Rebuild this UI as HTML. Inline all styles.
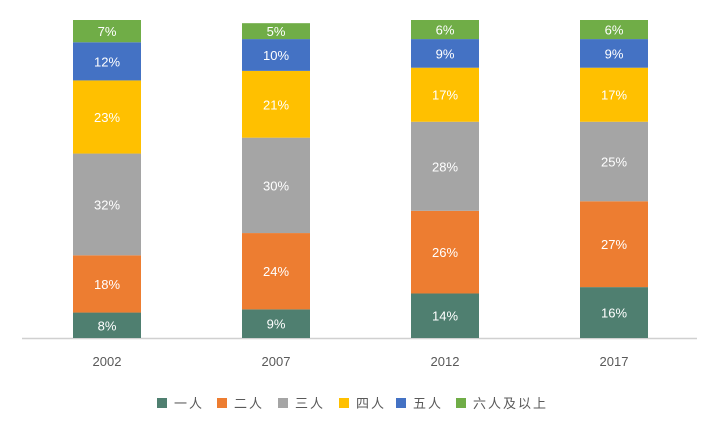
<!DOCTYPE html>
<html><head><meta charset="utf-8"><style>
body{margin:0;background:#fff;}
svg{display:block;font-family:"Liberation Sans","Noto Sans CJK SC",sans-serif;}
</style></head><body>
<svg id="chart" width="720" height="432" viewBox="0 0 720 432">
<line x1="22" y1="338.5" x2="697" y2="338.5" stroke="#d0d0d0" stroke-width="1.5"/>
<g id="bars"></g>
<g id="xlabels"></g>
<g id="legend"></g>
</svg>
<script>
const years = ["2002","2007","2012","2017"];
const seriesNames = ["一人","二人","三人","四人","五人","六人及以上"];
const s1 = [8,9,14,16];
const s2 = [18,24,26,27];
const s3 = [32,30,28,25];
const s4 = [23,21,17,17];
const s5 = [12,10,9,9];
const s6 = [7,5,6,6];
const series = [s1,s2,s3,s4,s5,s6];
const colors = ["#4f7f70","#ed7d31","#a5a5a5","#ffc000","#4472c4","#70ad47"];
const NS="http://www.w3.org/2000/svg";
const baseY=338, plotH=318, bandW=169, barW=68;
function yScale(v){return v/100*plotH;}
function xCenter(i){return 107+bandW*i;}
const bars=document.getElementById('bars');
years.forEach((yr,i)=>{
  let acc=0;
  series.forEach((s,k)=>{
    const v=s[i];
    const h=yScale(v), y=baseY-yScale(acc)-h;
    const r=document.createElementNS(NS,'rect');
    r.setAttribute('x',xCenter(i)-barW/2);r.setAttribute('y',y);
    r.setAttribute('width',barW);r.setAttribute('height',h);
    r.setAttribute('fill',colors[k]);
    
    
    bars.appendChild(r);
    const t=document.createElementNS(NS,'text');
    t.setAttribute('x',xCenter(i));t.setAttribute('y',y+h/2+5);
    t.setAttribute('text-anchor','middle');t.setAttribute('font-size','13');
    t.setAttribute('fill','#fff');
    t.textContent=v+'%';
    
    
    bars.appendChild(t);
    acc+=v;
  });
  const xl=document.createElementNS(NS,'text');
  xl.setAttribute('x',xCenter(i));xl.setAttribute('y',366);
  xl.setAttribute('text-anchor','middle');xl.setAttribute('font-size','13');
  xl.setAttribute('fill','#595959');
  xl.textContent=yr;
  
  
  document.getElementById('xlabels').appendChild(xl);
});
const legX=[157,217,278,339,396,456];
const lg=document.getElementById('legend');
seriesNames.forEach((n,k)=>{
  const g=document.createElementNS(NS,'g');
  
  
  const r=document.createElementNS(NS,'rect');
  r.setAttribute('x',legX[k]);r.setAttribute('y',398);r.setAttribute('width',10);r.setAttribute('height',10);
  r.setAttribute('fill',colors[k]);
  g.appendChild(r);
  const t=document.createElementNS(NS,'text');
  t.setAttribute('x',legX[k]+17);t.setAttribute('y',408);
  t.setAttribute('font-size','13');t.setAttribute('fill','#595959');
  t.setAttribute('letter-spacing','2');
  t.textContent=n;
  g.appendChild(t);
  lg.appendChild(g);
});
</script>
</body></html>
